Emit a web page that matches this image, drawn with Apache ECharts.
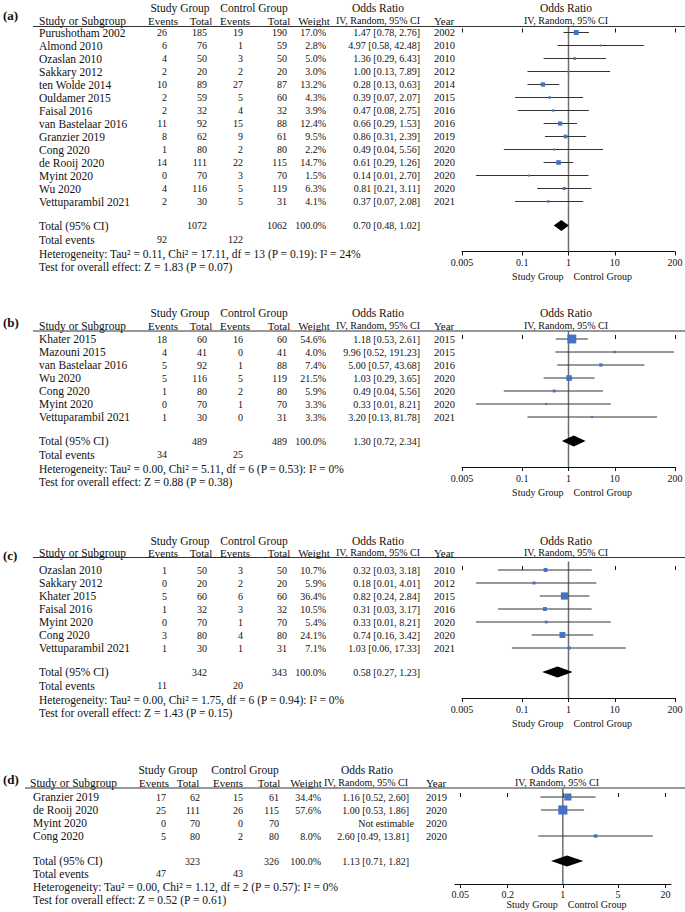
<!DOCTYPE html>
<html><head><meta charset="utf-8">
<script src="https://cdn.jsdelivr.net/npm/echarts@6/dist/echarts.min.js"></script>
<style>html,body{margin:0;padding:0;background:#fff}#c{width:685px;height:912px}</style>
</head><body><div id="c"></div>
<script>
// ================= DATA =================
// Panel (a)
const aStudies = ['Purushotham 2002','Almond 2010','Ozaslan 2010','Sakkary 2012','ten Wolde 2014','Ouldamer 2015','Faisal 2016','van Bastelaar 2016','Granzier 2019','Cong 2020','de Rooij 2020','Myint 2020','Wu 2020','Vettuparambil 2021'];
const aEvStudy = [26,6,4,2,10,2,2,11,8,1,14,0,4,2];
const aTotStudy = [185,76,50,20,89,59,32,92,62,80,111,70,116,30];
const aEvCtrl = [19,1,3,2,27,5,4,15,9,2,22,3,5,5];
const aTotCtrl = [190,59,50,20,87,60,32,88,61,80,115,70,119,31];
const aWeight = [17.0,2.8,5.0,3.0,13.2,4.3,3.9,12.4,9.5,2.2,14.7,1.5,6.3,4.1];
const aOR = [1.47,4.97,1.36,1.00,0.28,0.39,0.47,0.66,0.86,0.49,0.61,0.14,0.81,0.37];
const aLow = [0.78,0.58,0.29,0.13,0.13,0.07,0.08,0.29,0.31,0.04,0.29,0.01,0.21,0.07];
const aHigh = [2.76,42.48,6.43,7.89,0.63,2.07,2.75,1.53,2.39,5.56,1.26,2.70,3.11,2.08];
const aYear = [2002,2010,2010,2012,2014,2015,2016,2016,2019,2020,2020,2020,2020,2021];
const aTotals = [1072,1062];
const aTotalEvents = [92,122];
const aPooled = [0.70,0.48,1.02];
const aHet = 'Heterogeneity: Tau² = 0.11, Chi² = 17.11, df = 13 (P = 0.19): I² = 24%';
const aTest = 'Test for overall effect: Z = 1.83 (P = 0.07)';

// Panel (b)
const bStudies = ['Khater 2015','Mazouni 2015','van Bastelaar 2016','Wu 2020','Cong 2020','Myint 2020','Vettuparambil 2021'];
const bEvStudy = [18,4,5,5,1,0,1];
const bTotStudy = [60,41,92,116,80,70,30];
const bEvCtrl = [16,0,1,5,2,1,0];
const bTotCtrl = [60,41,88,119,80,70,31];
const bWeight = [54.6,4.0,7.4,21.5,5.9,3.3,3.3];
const bOR = [1.18,9.96,5.00,1.03,0.49,0.33,3.20];
const bLow = [0.53,0.52,0.57,0.29,0.04,0.01,0.13];
const bHigh = [2.61,191.23,43.68,3.65,5.56,8.21,81.78];
const bYear = [2015,2015,2016,2020,2020,2020,2021];
const bTotals = [489,489];
const bTotalEvents = [34,25];
const bPooled = [1.30,0.72,2.34];
const bHet = 'Heterogeneity: Tau² = 0.00, Chi² = 5.11, df = 6 (P = 0.53): I² = 0%';
const bTest = 'Test for overall effect: Z = 0.88 (P = 0.38)';

// Panel (c)
const cStudies = ['Ozaslan 2010','Sakkary 2012','Khater 2015','Faisal 2016','Myint 2020','Cong 2020','Vettuparambil 2021'];
const cEvStudy = [1,0,5,1,0,3,1];
const cTotStudy = [50,20,60,32,70,80,30];
const cEvCtrl = [3,2,6,3,1,4,1];
const cTotCtrl = [50,20,60,32,70,80,31];
const cWeight = [10.7,5.9,36.4,10.5,5.4,24.1,7.1];
const cOR = [0.32,0.18,0.82,0.31,0.33,0.74,1.03];
const cLow = [0.03,0.01,0.24,0.03,0.01,0.16,0.06];
const cHigh = [3.18,4.01,2.84,3.17,8.21,3.42,17.33];
const cYear = [2010,2012,2015,2016,2020,2020,2021];
const cTotals = [342,343];
const cTotalEvents = [11,20];
const cPooled = [0.58,0.27,1.23];
const cHet = 'Heterogeneity: Tau² = 0.00, Chi² = 1.75, df = 6 (P = 0.94): I² = 0%';
const cTest = 'Test for overall effect: Z = 1.43 (P = 0.15)';

// Panel (d)
const dStudies = ['Granzier 2019','de Rooij 2020','Myint 2020','Cong 2020'];
const dEvStudy = [17,25,0,5];
const dTotStudy = [62,111,70,80];
const dEvCtrl = [15,26,0,2];
const dTotCtrl = [61,115,70,80];
const dWeight = [34.4,57.6,null,8.0];
const dOR = [1.16,1.00,null,2.60];
const dLow = [0.52,0.53,null,0.49];
const dHigh = [2.60,1.86,null,13.81];
const dYear = [2019,2020,2020,2020];
const dTotals = [323,326];
const dTotalEvents = [47,43];
const dPooled = [1.13,0.71,1.82];
const dHet = 'Heterogeneity: Tau² = 0.00, Chi² = 1.12, df = 2 (P = 0.57): I² = 0%';
const dTest = 'Test for overall effect: Z = 0.52 (P = 0.61)';

// Axis ticks
const ticksWide = [0.005,0.1,1,10,200];
const ticksWideText = ['0.005','0.1','1','10','200'];
const ticksNarrow = [0.05,0.2,1,5,20];
const ticksNarrowText = ['0.05','0.2','1','5','20'];

// ================= LAYOUT =================
const ROW_H = 13;
const SERIF = "'Liberation Serif','Times New Roman',serif";
const BLUE = '#4472C4';
const INK = '#111';

const colsWide = {name:39, hName:39, ev1:167, tot1:207, ev2:243, tot2:287, wt:326, or:420, year:434,
  hStudy:180, hCtrl:254, hOR:378, hEv1:163, hTot1:201, hEv2:235, hTot2:279, hWt:314, hIV:378,
  plotC:566, lineL:33, gridL:462, gridW:213, refX:568.5};
const colsNarrow = {name:33, hName:30, ev1:166, tot1:200, ev2:243, tot2:279, wt:321, or:409, year:426,
  hStudy:168, hCtrl:245, hOR:367, hEv1:154, hTot1:188, hEv2:228, hTot2:269, hWt:306, hIV:366,
  plotC:557, lineL:25, gridL:455, gridW:216, refX:562.8};

const layouts = [
  {label:'(a)', labelY:15.5, hdr1:7.5, hdr2:20.5, line:26.5, y0:32.5, refTop:27, axis:251.5, tickMargin:6, sc:276.5,
   gTotal:24, gEv:14, gHet:28.5, gTest:41, cols:colsWide, min:0.005, max:200},
  {label:'(b)', labelY:322, hdr1:313, hdr2:325.5, line:331, y0:339, refTop:331.5, axis:467, tickMargin:6, sc:492,
   gTotal:24, gEv:13.5, gHet:27.5, gTest:40.5, cols:colsWide, min:0.005, max:200},
  {label:'(c)', labelY:555, hdr1:541, hdr2:552.5, line:557.5, y0:570, refTop:561.5, axis:698, tickMargin:6, sc:723,
   gTotal:24, gEv:13.5, gHet:27.5, gTest:41, cols:colsWide, min:0.005, max:200},
  {label:'(d)', labelY:779, hdr1:770, hdr2:782.7, line:788, y0:797, refTop:788.5, axis:884, tickMargin:5, sc:904,
   gTotal:25, gEv:12.7, gHet:26, gTest:39, cols:colsNarrow, min:0.043, max:23.5}
];

const panels = [
  {studies:aStudies, ev1:aEvStudy, tot1:aTotStudy, ev2:aEvCtrl, tot2:aTotCtrl, w:aWeight, or:aOR, lo:aLow, hi:aHigh, year:aYear,
   totals:aTotals, totEv:aTotalEvents, pooled:aPooled, het:aHet, test:aTest, ticks:ticksWide, tickText:ticksWideText},
  {studies:bStudies, ev1:bEvStudy, tot1:bTotStudy, ev2:bEvCtrl, tot2:bTotCtrl, w:bWeight, or:bOR, lo:bLow, hi:bHigh, year:bYear,
   totals:bTotals, totEv:bTotalEvents, pooled:bPooled, het:bHet, test:bTest, ticks:ticksWide, tickText:ticksWideText},
  {studies:cStudies, ev1:cEvStudy, tot1:cTotStudy, ev2:cEvCtrl, tot2:cTotCtrl, w:cWeight, or:cOR, lo:cLow, hi:cHigh, year:cYear,
   totals:cTotals, totEv:cTotalEvents, pooled:cPooled, het:cHet, test:cTest, ticks:ticksWide, tickText:ticksWideText},
  {studies:dStudies, ev1:dEvStudy, tot1:dTotStudy, ev2:dEvCtrl, tot2:dTotCtrl, w:dWeight, or:dOR, lo:dLow, hi:dHigh, year:dYear,
   totals:dTotals, totEv:dTotalEvents, pooled:dPooled, het:dHet, test:dTest, ticks:ticksNarrow, tickText:ticksNarrowText}
];

// ================= BUILD =================
const graphics = [];
function txt(x, y, s, opt) {
  opt = opt || {};
  graphics.push({type:'text', x:x, y:y, silent:true, z:10,
    style:{text:String(s), font:(opt.weight||'normal')+' '+(opt.size||11.5)+'px '+SERIF,
      fill:INK, textAlign:opt.align||'left', textVerticalAlign:'middle'}});
}
function hline(x1, x2, y, w, c) {
  graphics.push({type:'line', silent:true, z:10, shape:{x1:x1, y1:y, x2:x2, y2:y}, style:{stroke:c||'#333', lineWidth:w||1}});
}
const f2 = v => v.toFixed(2);
const orText = (o,l,h) => (o == null ? 'Not estimable' : f2(o)+' ['+f2(l)+', '+f2(h)+']');

const grids = [], xAxes = [], yAxes = [], series = [];

panels.forEach((d, k) => {
  const L = layouts[k], C = L.cols;
  const n = d.studies.length;
  const last = L.y0 + (n-1)*ROW_H;
  const yTotal = last + L.gTotal, yEv = yTotal + L.gEv, yHet = yTotal + L.gHet, yTest = yTotal + L.gTest;

  // labels & headers
  txt(3, L.labelY, L.label, {weight:'bold', size:13});
  txt(C.hStudy, L.hdr1, 'Study Group', {align:'center'});
  txt(C.hCtrl, L.hdr1, 'Control Group', {align:'center'});
  txt(C.hOR, L.hdr1, 'Odds Ratio', {align:'center'});
  txt(C.plotC, L.hdr1, 'Odds Ratio', {align:'center'});
  txt(C.hName, L.hdr2, 'Study or Subgroup');
  txt(C.hEv1, L.hdr2, 'Events', {align:'center', size:11});
  txt(C.hTot1, L.hdr2, 'Total', {align:'center', size:11});
  txt(C.hEv2, L.hdr2, 'Events', {align:'center', size:11});
  txt(C.hTot2, L.hdr2, 'Total', {align:'center', size:11});
  txt(C.hWt, L.hdr2, 'Weight', {align:'center', size:11});
  txt(C.hIV, L.hdr2, 'IV, Random, 95% CI', {align:'center', size:10});
  txt(C.year, L.hdr2, 'Year', {size:11});
  txt(C.plotC, L.hdr2, 'IV, Random, 95% CI', {align:'center', size:10});
  hline(C.lineL, 685, L.line, 1.2);

  // study rows
  for (let i = 0; i < n; i++) {
    const y = L.y0 + i*ROW_H;
    txt(C.name, y, d.studies[i]);
    txt(C.ev1, y, d.ev1[i], {align:'right', size:10});
    txt(C.tot1, y, d.tot1[i], {align:'right', size:10});
    txt(C.ev2, y, d.ev2[i], {align:'right', size:10});
    txt(C.tot2, y, d.tot2[i], {align:'right', size:10});
    if (d.w[i] != null) txt(C.wt, y, d.w[i].toFixed(1)+'%', {align:'right', size:10});
    txt(C.or + (d.or[i]==null ? 5 : 0), y, orText(d.or[i], d.lo[i], d.hi[i]), {align:'right', size:10});
    txt(C.year, y, d.year[i], {size:10.5});
  }
  // totals
  txt(C.name, yTotal, 'Total (95% CI)');
  txt(C.tot1, yTotal, d.totals[0], {align:'right', size:10});
  txt(C.tot2, yTotal, d.totals[1], {align:'right', size:10});
  txt(C.wt, yTotal, '100.0%', {align:'right', size:10});
  txt(C.or, yTotal, orText(d.pooled[0], d.pooled[1], d.pooled[2]), {align:'right', size:10});
  txt(C.name, yEv, 'Total events');
  txt(C.ev1, yEv, d.totEv[0], {align:'right', size:10});
  txt(C.ev2, yEv, d.totEv[1], {align:'right', size:10});
  txt(C.name, yHet, d.het);
  txt(C.name, yTest, d.test);
  txt(C.refX - 5, L.sc, 'Study Group', {align:'right', size:10});
  txt(C.refX + 5, L.sc, 'Control Group', {size:10});

  // plot grid
  grids.push({left:C.gridL, width:C.gridW, top:L.refTop, height:L.axis - L.refTop, outerBoundsMode:'none', containLabel:false});
  const yMin = (L.refTop - L.y0)/ROW_H, yMax = (L.axis - L.y0)/ROW_H;
  yAxes.push({gridIndex:k, type:'value', min:yMin, max:yMax, inverse:true, show:false});
  const tickFmt = v => { let bi = 0; d.ticks.forEach((t, j) => { if (Math.abs(Math.log(t) - Math.log(v)) < Math.abs(Math.log(d.ticks[bi]) - Math.log(v))) bi = j; }); return d.tickText[bi]; };
  xAxes.push({gridIndex:k, type:'log', logBase:10, min:L.min, max:L.max, position:'bottom',
    axisLine:{show:true, onZero:false, lineStyle:{color:INK, width:1}},
    axisTick:{show:true, length:4, customValues:d.ticks, lineStyle:{color:INK, width:1}},
    axisLabel:{show:true, customValues:d.ticks, formatter:tickFmt, fontFamily:'Liberation Serif', fontSize:10, color:INK, margin:L.tickMargin, hideOverlap:false},
    splitLine:{show:false}, minorTick:{show:false}, minorSplitLine:{show:false}});
  xAxes.push({gridIndex:k, type:'log', logBase:10, min:L.min, max:L.max, position:'bottom',
    axisLine:{show:false}, axisTick:{show:true, inside:true, length:4, customValues:d.ticks, lineStyle:{color:INK, width:1}},
    axisLabel:{show:false}, splitLine:{show:false}});

  // reference line at OR = 1
  series.push({type:'custom', xAxisIndex:2*k, yAxisIndex:k, z:1, silent:true, clip:false,
    data:[[1, 0]],
    renderItem:(params, api) => {
      const p = api.coord([api.value(0), api.value(1)]);
      const cs = params.coordSys;
      return {type:'line', shape:{x1:p[0], y1:cs.y, x2:p[0], y2:cs.y + cs.height}, style:{stroke:'#6e6e6e', lineWidth:1.5}};
    }});

  // study CIs and squares
  const studyData = [];
  for (let i = 0; i < n; i++) if (d.or[i] != null) studyData.push([d.or[i], i, d.lo[i], d.hi[i], d.w[i]]);
  series.push({type:'custom', xAxisIndex:2*k, yAxisIndex:k, z:3, silent:true, clip:false,
    encode:{x:[0,2,3], y:1}, data:studyData,
    renderItem:(params, api) => {
      const row = api.value(1);
      const p = api.coord([api.value(0), row]);
      const pl = api.coord([api.value(2), row]);
      const ph = api.coord([api.value(3), row]);
      const s = Math.max(2, 1.2*Math.sqrt(api.value(4)));
      return {type:'group', children:[
        {type:'line', shape:{x1:pl[0], y1:p[1], x2:ph[0], y2:p[1]}, style:{stroke:'#333', lineWidth:1}},
        {type:'rect', shape:{x:p[0]-s/2, y:p[1]-s/2, width:s, height:s}, style:{fill:BLUE}}
      ]};
    }});

  // pooled diamond
  const totalRow = (n-1) + L.gTotal/ROW_H;
  series.push({type:'custom', xAxisIndex:2*k, yAxisIndex:k, z:4, silent:true, clip:false,
    encode:{x:[0,2,3], y:1}, data:[[d.pooled[0], totalRow, d.pooled[1], d.pooled[2]]],
    renderItem:(params, api) => {
      const row = api.value(1);
      const p = api.coord([api.value(0), row]);
      const pl = api.coord([api.value(2), row]);
      const ph = api.coord([api.value(3), row]);
      return {type:'polygon', shape:{points:[[pl[0], p[1]], [p[0], p[1]-5.5], [ph[0], p[1]], [p[0], p[1]+5.5]]}, style:{fill:'#000'}};
    }});
});

const chart = echarts.init(document.getElementById('c'), null, {renderer:'svg'});
chart.setOption({
  animation:false,
  backgroundColor:'#fff',
  grid:grids, xAxis:xAxes, yAxis:yAxes, series:series,
  graphic:{elements:graphics}
});
</script>
</body></html>
